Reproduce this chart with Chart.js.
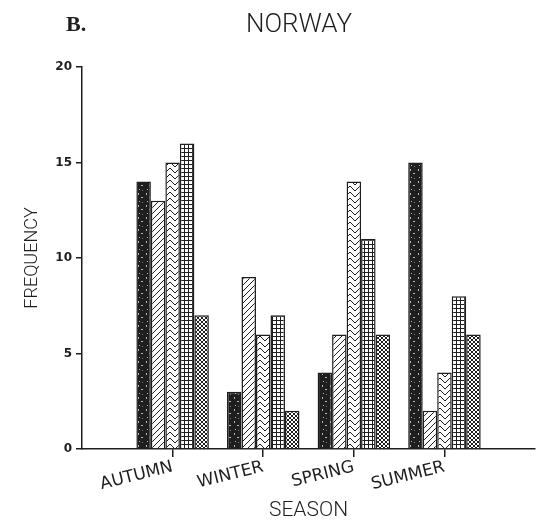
<!DOCTYPE html>
<html>
<head>
<meta charset="utf-8">
<script src="https://cdn.jsdelivr.net/npm/chart.js@4"></script>
<style>
  html, body { margin: 0; padding: 0; background: #fff; }
</style>
</head>
<body>
<canvas id="chart" width="540" height="523"></canvas>
<script>
// Data (frequency per season, 5 categories)
const seasons = ['AUTUMN', 'WINTER', 'SPRING', 'SUMMER'];
const darkBars = [14, 3, 4, 15];
const slashBars = [13, 9, 6, 2];
const chevronBars = [15, 6, 14, 4];
const gridBars = [16, 7, 11, 8];
const dotBars = [7, 2, 6, 6];
const yTicks = [0, 5, 10, 15, 20];

const ink = '#1e1e1e';

// blank slots at both ends so the seasons sit where they do on the print
const labels = ['', ...seasons, ''];
const pad = arr => [null, ...arr, null];

function makePattern(w, h, draw) {
    const c = document.createElement('canvas');
    c.width = w; c.height = h;
    const g = c.getContext('2d');
    g.fillStyle = '#fff';
    g.fillRect(0, 0, w, h);
    g.strokeStyle = ink;
    g.fillStyle = ink;
    g.lineWidth = 1;
    draw(g, w, h);
    return g.createPattern(c, 'repeat');
}

const speckled = makePattern(8, 12, (g, w, h) => {
    g.fillRect(0, 0, w, h);
    g.fillStyle = '#bbb';
    g.fillRect(2, 1, 1, 2);
    g.fillRect(5, 5, 2, 1);
    g.fillRect(3, 9, 1, 1);
    g.fillStyle = '#777';
    g.fillRect(6, 10, 1, 1);
});

const slash = makePattern(6, 6, (g, w, h) => {
    g.beginPath();
    g.moveTo(0, h); g.lineTo(w, 0);
    g.moveTo(-1, 1); g.lineTo(1, -1);
    g.moveTo(w - 1, h + 1); g.lineTo(w + 1, h - 1);
    g.stroke();
});

const chevron = makePattern(10, 6, (g, w, h) => {
    g.beginPath();
    for (let k = -1; k <= 1; k++) {
        g.moveTo(0, k * h); g.lineTo(w / 2, k * h + 5); g.lineTo(w, k * h);
    }
    g.stroke();
});

const grid = makePattern(4, 4, (g, w, h) => {
    g.fillRect(0, 0, 1, h);
    g.fillRect(0, 0, w, 1);
});

const dots = makePattern(4, 4, (g, w, h) => {
    g.beginPath();
    g.moveTo(0, 0); g.lineTo(w, h);
    g.moveTo(w, 0); g.lineTo(0, h);
    g.stroke();
});

function barSet(data, fill) {
    return {
        data: pad(data),
        backgroundColor: fill,
        borderColor: ink,
        borderWidth: 1.5,
        categoryPercentage: 0.8,
        barPercentage: 1.0
    };
}

// B. and NORWAY heading
const heading = {
    id: 'heading',
    afterDraw(chart) {
        const c = chart.ctx;
        c.save();
        c.fillStyle = ink;
        c.textBaseline = 'middle';
        c.textAlign = 'left';
        c.font = 'bold 22px "Liberation Serif"';
        c.fillText('B.', 66, 25);
        c.textAlign = 'center';
        c.font = '300 26px Roboto';
        c.fillText('NORWAY', 299, 25);
        c.restore();
    }
};

new Chart(document.getElementById('chart'), {
    type: 'bar',
    data: {
        labels: labels,
        datasets: [
            barSet(darkBars, speckled),
            barSet(slashBars, slash),
            barSet(chevronBars, chevron),
            barSet(gridBars, grid),
            barSet(dotBars, dots)
        ]
    },
    options: {
        responsive: false,
        animation: false,
        layout: { padding: { top: 67, right: 3, left: 0, bottom: 0 } },
        plugins: {
            legend: { display: false },
            tooltip: { enabled: false }
        },
        scales: {
            x: {
                offset: false,
                grid: {
                    display: true,
                    offset: false,
                    drawOnChartArea: false,
                    tickLength: 8,
                    lineWidth: 1.5,
                    tickColor: ctx => (ctx.index === 0 || ctx.index === labels.length - 1) ? 'rgba(0,0,0,0)' : ink
                },
                border: { display: true, color: ink, width: 1.5 },
                ticks: {
                    autoSkip: false,
                    minRotation: 14,
                    maxRotation: 14,
                    padding: 0,
                    color: ink,
                    font: { family: 'DejaVu Sans', size: 17 }
                },
                title: {
                    display: true,
                    text: 'SEASON',
                    color: ink,
                    font: { family: 'Roboto', size: 21, weight: 300 },
                    padding: { top: 0, bottom: 0 }
                },
                afterFit: s => { s.height = 74; }
            },
            y: {
                min: 0,
                max: 20,
                afterBuildTicks: s => { s.ticks = yTicks.map(v => ({ value: v })); },
                grid: {
                    display: true,
                    drawOnChartArea: false,
                    tickLength: 6,
                    lineWidth: 1.5,
                    color: ink
                },
                border: { display: true, color: ink, width: 1.5 },
                ticks: {
                    padding: 4,
                    color: ink,
                    font: { family: 'DejaVu Sans', size: 12, weight: 'bold' }
                },
                title: {
                    display: true,
                    text: 'FREQUENCY',
                    color: ink,
                    font: { family: 'Roboto', size: 18, weight: 300 },
                    padding: { top: 22, bottom: 0 }
                },
                afterFit: s => { s.width = 82; }
            }
        }
    },
    plugins: [heading]
});
</script>
</body>
</html>
